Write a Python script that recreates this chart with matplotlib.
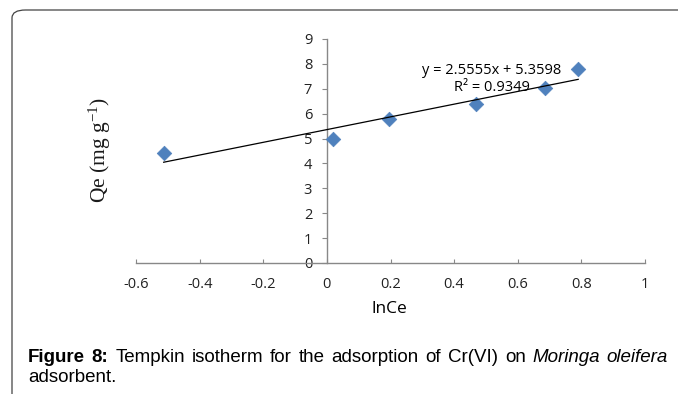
import matplotlib.pyplot as plt
from matplotlib.patches import FancyBboxPatch

plt.rcParams["mathtext.fontset"] = "custom"
plt.rcParams["mathtext.rm"] = "Liberation Serif"
plt.rcParams["mathtext.it"] = "Liberation Serif:italic"

# data
ln_ce = [-0.513, 0.02, 0.195, 0.47, 0.686, 0.79]
qe = [4.42, 4.98, 5.78, 6.39, 7.03, 7.79]
slope = 2.5555
intercept = 5.3598
x_ticks = [-0.6, -0.4, -0.2, 0, 0.2, 0.4, 0.6, 0.8, 1]
x_tick_labels = ["-0.6", "-0.4", "-0.2", "0", "0.2", "0.4", "0.6", "0.8", "1"]
y_ticks = [0, 1, 2, 3, 4, 5, 6, 7, 8, 9]

fig = plt.figure(figsize=(6.78, 3.94), dpi=100)

# frame around the figure (only top and left edges visible)
frame = FancyBboxPatch((12 / 678, -0.2), 1.2, 1.2 - 10 / 394,
                       boxstyle="round,pad=0,rounding_size=0.02",
                       transform=fig.transFigure, fill=False,
                       edgecolor="#444444", linewidth=0.9)
fig.patches.append(frame)

ax = fig.add_axes([136 / 678, 1 - 263 / 394, (645 - 136) / 678, (263 - 39) / 394])

ax.scatter(ln_ce, qe, marker="D", s=55, color="#4f81bd", edgecolors="#4f81bd",
           linewidths=0.5, zorder=3)
fit_x = [min(ln_ce), max(ln_ce)]
fit_y = [slope * v + intercept for v in fit_x]
ax.plot(fit_x, fit_y, color="black", linewidth=0.9, zorder=4)

ax.set_xlim(-0.6, 1)
ax.set_ylim(0, 9)
ax.set_xticks(x_ticks)
ax.set_xticklabels(x_tick_labels)
ax.set_yticks(y_ticks)

# axes cross at zero, like the Excel chart
for s in ["top", "right"]:
    ax.spines[s].set_visible(False)
ax.spines["left"].set_position(("data", 0))
ax.spines["bottom"].set_position(("data", 0))
for s in ["left", "bottom"]:
    ax.spines[s].set_color("#888888")
    ax.spines[s].set_linewidth(1.0)

ax.tick_params(axis="y", direction="out", length=3.6, color="#888888",
               labelsize=10.5, pad=7)
ax.tick_params(axis="x", direction="in", length=3, color="#888888",
               labelsize=10.5, pad=10)
for lab in ax.get_xticklabels() + ax.get_yticklabels():
    lab.set_fontfamily("Open Sans")
    lab.set_color("#222222")

ax.text(0.519, 7.39, "y = 2.5555x + 5.3598\nR² = 0.9349", ha="center", va="center",
        fontsize=10.5, family="Open Sans", linespacing=1.25, zorder=5)

fig.text(389 / 678, 1 - 309 / 394, "lnCe", ha="center", va="center",
         fontsize=12.5, family="Open Sans")
fig.text(100 / 678, 1 - 150 / 394, r"Qe (mg g$^{\mathrm{-1}}$)", rotation=90,
         ha="center", va="center", fontsize=15.5, family="Liberation Serif",
         color="#1a1a1a")

# caption, first line justified between x=28 and x=668
cap_y1 = 1 - 357 / 394
cap_y2 = 1 - 378 / 394
fs = 13.5
words = [("Figure", "bold"), ("8:", "bold"), ("Tempkin", ""), ("isotherm", ""),
         ("for", ""), ("the", ""), ("adsorption", ""), ("of", ""),
         ("Cr(VI)", ""), ("on", ""), ("Moringa", "italic"), ("oleifera", "italic")]
fig.canvas.draw()
r = fig.canvas.get_renderer()
W = fig.bbox.width
items = []
total = 0
for w, st in words:
    t = fig.text(0, cap_y1, w, fontsize=fs, family="Liberation Sans", va="center",
                 fontweight="bold" if st == "bold" else "normal",
                 style="italic" if st == "italic" else "normal")
    wd = t.get_window_extent(r).width
    items.append((t, wd))
    total += wd
gap = (668 - 28 - total) / (len(items) - 1)
x = 28
for t, wd in items:
    t.set_x(x / W)
    x += wd + gap
fig.text(28 / 678, cap_y2, "adsorbent.", fontsize=fs, family="Liberation Sans",
         va="center")

plt.savefig("out.png", dpi=100)
